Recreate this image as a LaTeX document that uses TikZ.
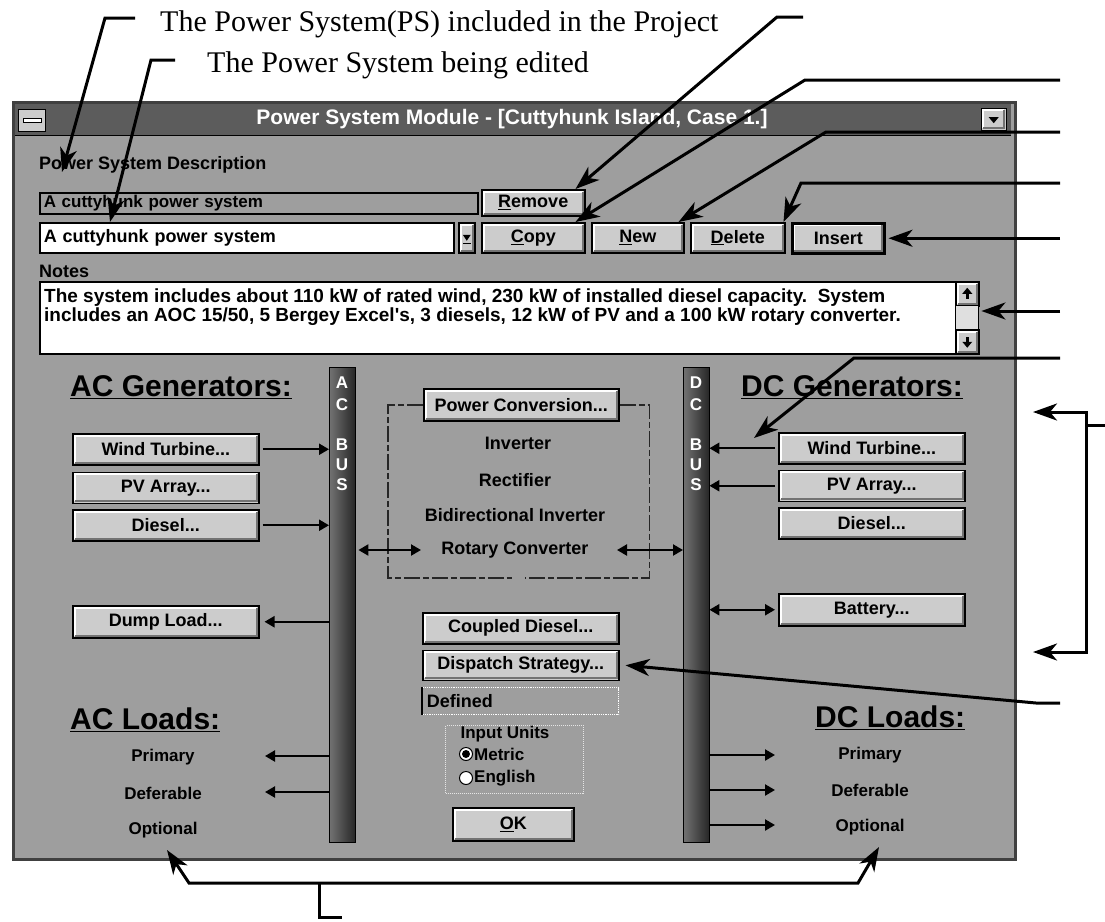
\documentclass[tikz,border=0pt]{standalone}
\usepackage{fontspec}
\setmainfont{Liberation Serif}
\newfontfamily\uifont{Liberation Sans}
\usetikzlibrary{arrows.meta,positioning}
\definecolor{bodygray}{gray}{0.62}
\definecolor{btngray}{gray}{0.80}
\definecolor{capgray}{gray}{0.36}
\definecolor{bardark}{gray}{0.30}

\begin{document}
\begin{tikzpicture}[x=1pt,y=-1pt,
                    leader/.style={line width=3pt,-{Stealth[length=24pt,width=17pt,inset=7pt]}},
                    leaders/.style={line width=3pt,{Stealth[length=24pt,width=17pt,inset=7pt]}-{Stealth[length=24pt,width=17pt,inset=7pt]}},
                    link/.style={line width=2.2pt,-{Triangle[length=10pt,width=11pt]}},
                    links/.style={line width=2.2pt,{Triangle[length=10pt,width=11pt]}-{Triangle[length=10pt,width=11pt]}}]
  \tikzstyle{ui}=[font=\uifont\bfseries\fontsize{18}{20}\selectfont]
  \tikzstyle{uismall}=[font=\uifont\bfseries\fontsize{17}{19}\selectfont]
  \tikzstyle{heading}=[font=\uifont\bfseries\fontsize{30}{32}\selectfont,anchor=west,inner sep=0pt]
  \tikzstyle{annot}=[font=\fontsize{30}{32}\selectfont,anchor=base west,inner sep=0pt]
  \tikzstyle{bevel}=[path picture={
      \draw[white,line width=2pt] ([shift={(2pt,2pt)}]path picture bounding box.south west) |- ([shift={(-2pt,-2pt)}]path picture bounding box.north east);
      \draw[black!55,line width=2pt] ([shift={(2pt,2pt)}]path picture bounding box.south west) -| ([shift={(-2pt,-2pt)}]path picture bounding box.north east);}]
  \tikzstyle{btn}=[draw=black,line width=1.5pt,fill=btngray,inner sep=0pt,anchor=north west,ui,bevel]
  \tikzstyle{genbtn}=[btn,minimum width=186pt,minimum height=31pt]
  \tikzstyle{midbtn}=[btn,minimum width=196pt,minimum height=31pt]
  \tikzstyle{topbtn}=[btn,minimum height=30pt]
  \tikzstyle{editfield}=[draw=black,line width=1.5pt,anchor=north west,inner xsep=4pt,inner ysep=0pt,align=left,uismall]
  \tikzstyle{bus}=[left color=black!55,right color=black!85,draw=black,anchor=north west,inner sep=0pt,minimum width=26pt,minimum height=475pt]
  \tikzstyle{busletter}=[text=white,font=\uifont\bfseries\fontsize{17}{17}\selectfont,inner sep=0pt]
  \tikzstyle{pcframe}=[draw=black!85,line width=1.6pt,dash pattern=on 16pt off 3pt on 6pt off 3pt]
  \tikzstyle{radio}=[circle,draw=black,fill=white,line width=1pt,inner sep=0pt,minimum size=13pt]

  \useasboundingbox[fill=white] (0,0) rectangle (1105,921);

  \node[draw=black!75,line width=3pt,fill=bodygray,anchor=north west,inner sep=0pt,
        minimum width=1002pt,minimum height=757pt] (win) at (12,101) {};
  \node[fill=capgray,anchor=north west,inner sep=0pt,minimum width=996pt,minimum height=31pt] (caption) at (15,104) {};
  \draw[line width=1.5pt] (caption.south west) -- (caption.south east);
  \node[draw=black,fill=btngray,anchor=north west,inner sep=0pt,minimum width=27pt,minimum height=22pt] (sysmenu) at (18,109) {};
  \node[draw=black,fill=white,inner sep=0pt,minimum width=18pt,minimum height=4pt] (sysdash) at (sysmenu) {};
  \node[draw=black,fill=btngray,anchor=north west,inner sep=0pt,minimum width=25pt,minimum height=22pt,bevel] (maxbtn) at (981,108) {};
  \fill ([shift={(-5pt,2pt)}]maxbtn.center) -- ++(10pt,0pt) -- ++(-5pt,-6pt) -- cycle;
  \node[text=white,font=\uifont\bfseries\fontsize{21}{21}\selectfont] (title) at (512,119) {Power System Module - [Cuttyhunk Island, Case 1.]};

  \node[ui,anchor=west,inner sep=0pt] (psdesc) at (39,165) {Power System Description};
  \node[editfield,fill=bodygray,text width=430pt,minimum height=21pt] (pslist) at (39,192) {A cuttyhunk power system};
  \node[topbtn,minimum width=103pt,minimum height=26pt] (remove) at (481,189) {\underline{R}emove};
  \node[editfield,fill=white,text width=406pt,minimum height=30pt,ui] (psedit) at (39,222) {A cuttyhunk power system};
  \node[btn,minimum width=16pt,minimum height=30pt] (psdrop) at (458,222) {};
  \fill ([shift={(-4pt,3pt)}]psdrop.center) -- ++(8pt,0pt) -- ++(-4pt,-6pt) -- cycle;
  \fill ([shift={(-4pt,-5pt)}]psdrop.center) rectangle ++(8pt,-1.5pt);
  \node[topbtn,minimum width=103pt] (copy) at (481,222) {\underline{C}opy};
  \node[topbtn,minimum width=92pt] (new) at (591,222) {\underline{N}ew};
  \node[topbtn,minimum width=94pt] (delete) at (690,222) {\underline{D}elete};
  \node[topbtn,minimum width=92pt,line width=2.5pt] (insert) at (791,222) {Insert};

  \node[ui,anchor=west,inner sep=0pt] (noteslbl) at (39,271) {Notes};
  \node[draw=black,line width=1.5pt,fill=white,anchor=north west,inner sep=0pt,minimum width=916pt,minimum height=72pt] (notes) at (39,281) {};
  \node[anchor=north west,inner sep=0pt,align=left,font=\uifont\bfseries\fontsize{19}{19}\selectfont] (notestext) at (44,289)
    {The system includes about 110 kW of rated wind, 230 kW of installed diesel capacity.\ \ System\\includes an AOC 15/50, 5 Bergey Excel's, 3 diesels, 12 kW of PV and a 100 kW rotary converter.};
  \node[btn,minimum width=23pt,minimum height=24pt] (scrup) at (955,281) {};
  \node[draw=black,fill=gray!25,anchor=north west,inner sep=0pt,minimum width=23pt,minimum height=24pt] (scrthumb) at (955,305) {};
  \node[btn,minimum width=23pt,minimum height=24pt] (scrdown) at (955,329) {};
  \fill ([shift={(0pt,6pt)}]scrup.center) -- ++(-5pt,-6pt) -- ++(10pt,0pt) -- cycle;
  \fill ([shift={(-1.5pt,0pt)}]scrup.center) rectangle ++(3pt,-5pt);
  \fill ([shift={(0pt,-6pt)}]scrdown.center) -- ++(-5pt,6pt) -- ++(10pt,0pt) -- cycle;
  \fill ([shift={(-1.5pt,0pt)}]scrdown.center) rectangle ++(3pt,5pt);

  \node[heading] (acgenhead) at (70,387) {\underline{AC Generators:}};
  \node[heading] (dcgenhead) at (741,387) {\underline{DC Generators:}};
  \node[heading] (acloadhead) at (70,720) {\underline{AC Loads:}};
  \node[heading] (dcloadhead) at (815,718) {\underline{DC Loads:}};

  \node[bus] (acbus) at (329,367) {};
  \node[bus] (dcbus) at (683,367) {};
  \foreach \ch/\yy in {A/383,C/405,B/445,U/465,S/485}
    \node[busletter] (ac\ch) at (342,\yy) {\ch};
  \foreach \ch/\yy in {D/383,C/405,B/445,U/465,S/485}
    \node[busletter] (dc\ch) at (696,\yy) {\ch};

  \node[genbtn] (acwind) at (72,433) {Wind Turbine...};
  \node[genbtn,below=6pt of acwind] (acpv) {PV Array...};
  \node[genbtn,below=5pt of acpv] (acdiesel) {Diesel...};
  \node[genbtn,minimum height=32pt] (acdump) at (72,605) {Dump Load...};
  \node[genbtn] (dcwind) at (778,432) {Wind Turbine...};
  \node[genbtn,below=5pt of dcwind] (dcpv) {PV Array...};
  \node[genbtn,below=5pt of dcpv] (dcdiesel) {Diesel...};
  \node[genbtn,minimum height=32pt] (battery) at (778,593) {Battery...};

  \node[midbtn,minimum width=195pt,minimum height=32pt] (pconv) at (423,388) {Power Conversion...};
  \draw[pcframe] (pconv.west) -- ++(-35pt,0pt) |- (512,578);
  \draw[pcframe] (pconv.east) -- ++(30pt,0pt) |- (525,578);
  \node[ui] (inverter) at (518,443) {Inverter};
  \node[ui] (rectifier) at (515,480) {Rectifier};
  \node[ui] (bidir) at (515,515) {Bidirectional Inverter};
  \node[ui] (rotary) at (515,550) {Rotary Converter};

  \node[midbtn] (coupled) at (422,612) {Coupled Diesel...};
  \node[midbtn,below=5pt of coupled,minimum height=30pt] (dispatch) {Dispatch Strategy...};
  \node[draw=white,densely dotted,line width=1.2pt,inner xsep=4pt,inner ysep=0pt,text width=188pt,
        minimum height=27pt,align=left,ui,below=6pt of dispatch] (defined) {Defined};
  \draw[line width=2pt] (defined.north west) -- (defined.south west);
  \node[draw=gray!20,densely dotted,line width=1pt,anchor=north west,inner sep=0pt,minimum width=138pt,minimum height=68pt] (unitsbox) at (445,725) {};
  \node[uismall] (unitslbl) at (505,734) {Input Units};
  \node[radio] (metricrb) at (466,754) {};
  \fill (metricrb.center) circle (4pt);
  \node[uismall,anchor=west,inner sep=0pt] (metric) at (474,754) {Metric};
  \node[radio] (englishrb) at (466,778) {};
  \node[uismall,anchor=west,inner sep=0pt] (english) at (474,778) {English};
  \node[btn,minimum width=121pt,minimum height=33pt] (okbtn) at (452,807) {\underline{O}K};

  \node[uismall] (acprim) at (163,757) {Primary};
  \node[uismall] (acdefer) at (163,793) {Deferable};
  \node[uismall] (acopt) at (163,830) {Optional};
  \node[uismall] (dcprim) at (870,755) {Primary};
  \node[uismall] (dcdefer) at (870,790) {Deferable};
  \node[uismall] (dcopt) at (870,827) {Optional};

  \coordinate (acrot) at (421,550);
  \coordinate (dcrot) at (617,550);
  \coordinate (acprimtip) at (265,756);
  \coordinate (acdefertip) at (265,792);
  \coordinate (dcprimtip) at (775,755);
  \coordinate (dcdefertip) at (775,790);
  \coordinate (dcopttip) at (775,825);
  \draw[link,shorten <=3pt] (acwind.east) -- (acwind.east -| acbus.west);
  \draw[link,shorten <=3pt] (acdiesel.east) -- (acdiesel.east -| acbus.west);
  \draw[link,shorten >=5pt] (acdump.east -| acbus.west) -- (acdump.east);
  \draw[links,shorten <=3pt] (acbus.east |- acrot) -- (acrot);
  \draw[links] (dcrot) -- (dcrot -| dcbus.west);
  \draw[link,shorten <=3pt] (dcwind.west) -- (dcwind.west -| dcbus.east);
  \draw[link,shorten <=3pt] (dcpv.west) -- (dcpv.west -| dcbus.east);
  \draw[links,shorten >=3pt] (battery.west -| dcbus.east) -- (battery.west);
  \draw[link] (acprimtip -| acbus.west) -- (acprimtip);
  \draw[link] (acdefertip -| acbus.west) -- (acdefertip);
  \draw[link] (dcprimtip -| dcbus.east) -- (dcprimtip);
  \draw[link] (dcdefertip -| dcbus.east) -- (dcdefertip);
  \draw[link] (dcopttip -| dcbus.east) -- (dcopttip);

  \node[annot] (anproject) at (160,31) {The Power System(PS) included in the Project};
  \node[annot] (anedited) at (207,72) {The Power System being edited};

  \coordinate (rgt) at (1060,0);
  \coordinate (prjstub) at (135,18);
  \coordinate (prjkink) at (105,18);
  \coordinate (prjtip) at (62,172);
  \coordinate (editstub) at (175,60);
  \coordinate (editkink) at (151,60);
  \coordinate (edittip) at (110,222);
  \coordinate (remstub) at (803,17);
  \coordinate (remkink) at (777,17);
  \coordinate (copykink) at (805,80);
  \coordinate (newkink) at (826,132);
  \coordinate (delkink) at (801,183);
  \coordinate (scrkink) at (1060,311);
  \coordinate (dcwkink) at (854,358);
  \coordinate (dcwtip) at (754,438);
  \coordinate (dispkink) at (1036,703);
  \coordinate (gentop) at (1033,412);
  \coordinate (brktop) at (1086,412);
  \coordinate (brkbot) at (1086,652);
  \coordinate (genbot) at (1033,652);
  \coordinate (brkstub) at (1086,425);
  \coordinate (brkstubend) at (1105,425);
  \coordinate (acopttip) at (167,850);
  \coordinate (lbrk) at (189,883);
  \coordinate (rbrk) at (858,883);
  \coordinate (dcopttip2) at (879,847);
  \coordinate (loadstub) at (319,883);
  \coordinate (loadfoot) at (319,917);
  \coordinate (loadfootend) at (342,917);

  \draw[leader] (prjstub) -- (prjkink) -- (prjtip);
  \draw[leader] (editstub) -- (editkink) -- (edittip);
  \draw[leader] (remstub) -- (remkink) -- ([xshift=-10pt]remove.north east);
  \draw[leader] (rgt |- copykink) -- (copykink) -- ([xshift=-10pt]copy.north east);
  \draw[leader] (rgt |- newkink) -- (newkink) -- ([xshift=-6pt]new.north east);
  \draw[leader] (rgt |- delkink) -- (delkink) -- ([xshift=-2pt]delete.north east);
  \draw[leader] (rgt |- insert.east) -- ([xshift=3pt]insert.east);
  \draw[leader] (scrkink) -- ([xshift=3pt]scrthumb.east |- scrkink);
  \draw[leader] (rgt |- dcwkink) -- (dcwkink) -- (dcwtip);
  \draw[leader] (rgt |- dispkink) -- (dispkink) -- ([xshift=6pt]dispatch.east);
  \draw[leaders] (gentop) -- (brktop) -- (brkbot) -- (genbot);
  \draw[line width=3pt] (brkstub) -- (brkstubend);
  \draw[leaders] (acopttip) -- (lbrk) -- (rbrk) -- (dcopttip2);
  \draw[line width=3pt] (loadstub) -- (loadfoot) -- (loadfootend);
\end{tikzpicture}
\end{document}
